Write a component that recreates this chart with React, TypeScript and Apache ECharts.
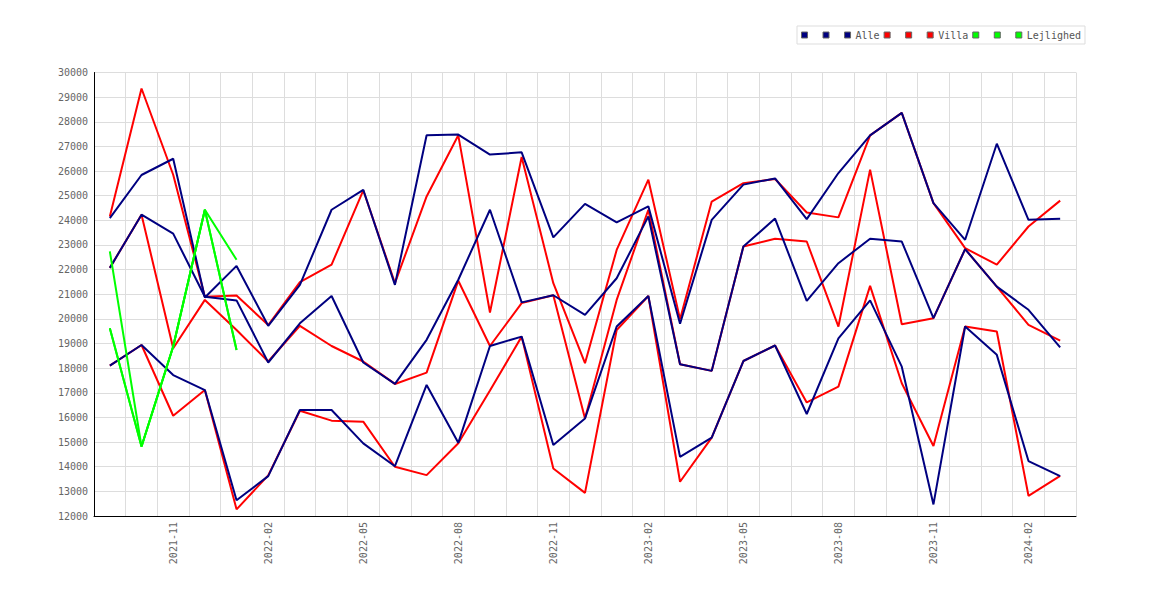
import React, { useEffect, useRef } from "react";
import * as echarts from "echarts";

const months = [
  "2021-09", "2021-10", "2021-11", "2021-12", "2022-01", "2022-02", "2022-03", "2022-04",
  "2022-05", "2022-06", "2022-07", "2022-08", "2022-09", "2022-10", "2022-11", "2022-12",
  "2023-01", "2023-02", "2023-03", "2023-04", "2023-05", "2023-06", "2023-07", "2023-08",
  "2023-09", "2023-10", "2023-11", "2023-12", "2024-01", "2024-02", "2024-03",
];

const yMin = 12000;
const yMax = 30000;
const yStep = 1000;

const alleHigh = [
  24090, 25840, 26500, 20870, 22150, 19720, 21380, 24430, 25240, 21380, 27450, 27480,
  26670, 26760, 23310, 24670, 23920, 24570, 19800, 24020, 25450, 25700, 24050, 25920,
  27450, 28360, 24700, 23210, 27110, 24020, 24060,
];
const alleMid = [
  22070, 24230, 23460, 20900, 20750, 18230, 19820, 20930, 18230, 17360, 19150, 21590,
  24430, 20670, 20960, 20160, 21650, 24160, 18160, 17890, 22940, 24070, 20730, 22260,
  23250, 23140, 20030, 22830, 21310, 20370, 18840,
];
const alleLow = [
  18100, 18940, 17720, 17110, 12640, 13620, 16300, 16300, 14950, 14020, 17320, 14970,
  18900, 19280, 14880, 15960, 19690, 20930, 14400, 15180, 18290, 18920, 16140, 19210,
  20750, 18060, 12470, 19690, 18540, 14230, 13620,
];

const villaHigh = [
  24160, 29350, 25850, 20900, 20950, 19750, 21490, 22200, 25220, 21450, 24970, 27450,
  20260, 26570, 21450, 18200, 22800, 25650, 19990, 24760, 25510, 25680, 24320, 24120,
  27450, 28360, 24700, 22870, 22200, 23750, 24800,
];
const villaMid = [
  22070, 24230, 18810, 20770, 19550, 18270, 19720, 18900, 18270, 17360, 17820, 21550,
  18900, 20640, 20960, 15960, 20770, 24430, 18160, 17890, 22940, 23250, 23140, 19690,
  26060, 19780, 20030, 22830, 21310, 19760, 19120,
];
const villaLow = [
  18100, 18940, 16070, 17110, 12270, 13650, 16270, 15870, 15830, 14000, 13660, 14950,
  17090, 19280, 13930, 12940, 19550, 20930, 13390, 15180, 18290, 18920, 16610, 17250,
  21340, 17390, 14840, 19690, 19490, 12820, 13630,
];

const lejlighedHigh = [22740, 14820, 18880, 24430, 22400];
const lejlighedMid = [19620, 14820, 18880, 24430, 18740];
const lejlighedLow = [19620, 14820, 18880, 24430, 18740];

const NAVY = "#000080";
const RED = "#ff0000";
const GREEN = "#00ff00";
const FONT = "'DejaVu Sans Mono', monospace";

const groups = [
  { label: "Alle", color: NAVY, z: 3, data: [alleHigh, alleMid, alleLow] },
  { label: "Villa", color: RED, z: 2, data: [villaHigh, villaMid, villaLow] },
  { label: "Lejlighed", color: GREEN, z: 4, data: [lejlighedHigh, lejlighedMid, lejlighedLow] },
];

export default function App() {
  const ref = useRef<HTMLDivElement>(null);

  useEffect(() => {
    if (!ref.current) return;
    document.body.style.margin = "0";
    const chart = echarts.init(ref.current, null, { renderer: "svg" });

    const legendLabel: Record<string, string> = {};
    const legendNames: string[] = [];
    const series: any[] = [];
    groups.forEach((g) => {
      g.data.forEach((arr, k) => {
        const name = k === 2 ? g.label : `${g.label} ${k + 1}`;
        legendLabel[name] = k === 2 ? g.label : " ";
        legendNames.push(name);
        series.push({
          name,
          type: "line",
          data: arr,
          z: g.z,
          symbol: "none",
          showSymbol: false,
          silent: true,
          lineStyle: { color: g.color, width: 2 },
          itemStyle: { color: g.color },
          emphasis: { disabled: true },
        });
      });
    });

    chart.setOption({
      animation: false,
      backgroundColor: "#ffffff",
      grid: { left: 94, top: 72.5, width: 982, height: 443.5, containLabel: false, outerBoundsMode: "none" },
      legend: {
        data: legendNames,
        left: 797,
        top: 26,
        orient: "horizontal",
        padding: [4, 4, 4, 4],
        itemWidth: 6,
        itemHeight: 6,
        itemGap: 4,
        icon: "rect",
        borderColor: "#dddddd",
        borderWidth: 1,
        backgroundColor: "#ffffff",
        selectedMode: false,
        itemStyle: { borderColor: "#666666", borderWidth: 1 },
        textStyle: { fontFamily: FONT, fontSize: 10, color: "#555555" },
        formatter: (name: string) => legendLabel[name] ?? name,
      },
      tooltip: { show: false },
      xAxis: {
        type: "category",
        data: months,
        boundaryGap: true,
        axisLine: { show: true, lineStyle: { color: "#000000", width: 1 } },
        axisTick: { show: false },
        axisLabel: {
          interval: (index: number) => index % 3 === 2,
          rotate: 90,
          margin: 6,
          fontFamily: FONT,
          fontSize: 10,
          color: "#666666",
        },
        splitLine: { show: true, interval: 0, lineStyle: { color: "#dddddd", width: 1 } },
      },
      yAxis: {
        type: "value",
        min: yMin,
        max: yMax,
        interval: yStep,
        axisLine: { show: true, lineStyle: { color: "#000000", width: 1 } },
        axisTick: { show: false },
        axisLabel: {
          margin: 6,
          fontFamily: FONT,
          fontSize: 10,
          color: "#666666",
          formatter: (v: number) => String(v),
        },
        splitLine: { show: true, lineStyle: { color: "#dddddd", width: 1 } },
      },
      series,
    });

    return () => chart.dispose();
  }, []);

  return (
    <div style={{ position: "fixed", left: 0, top: 0, width: 1170, height: 600, background: "#fff" }}>
      <div ref={ref} style={{ width: 1170, height: 600 }} />
    </div>
  );
}
